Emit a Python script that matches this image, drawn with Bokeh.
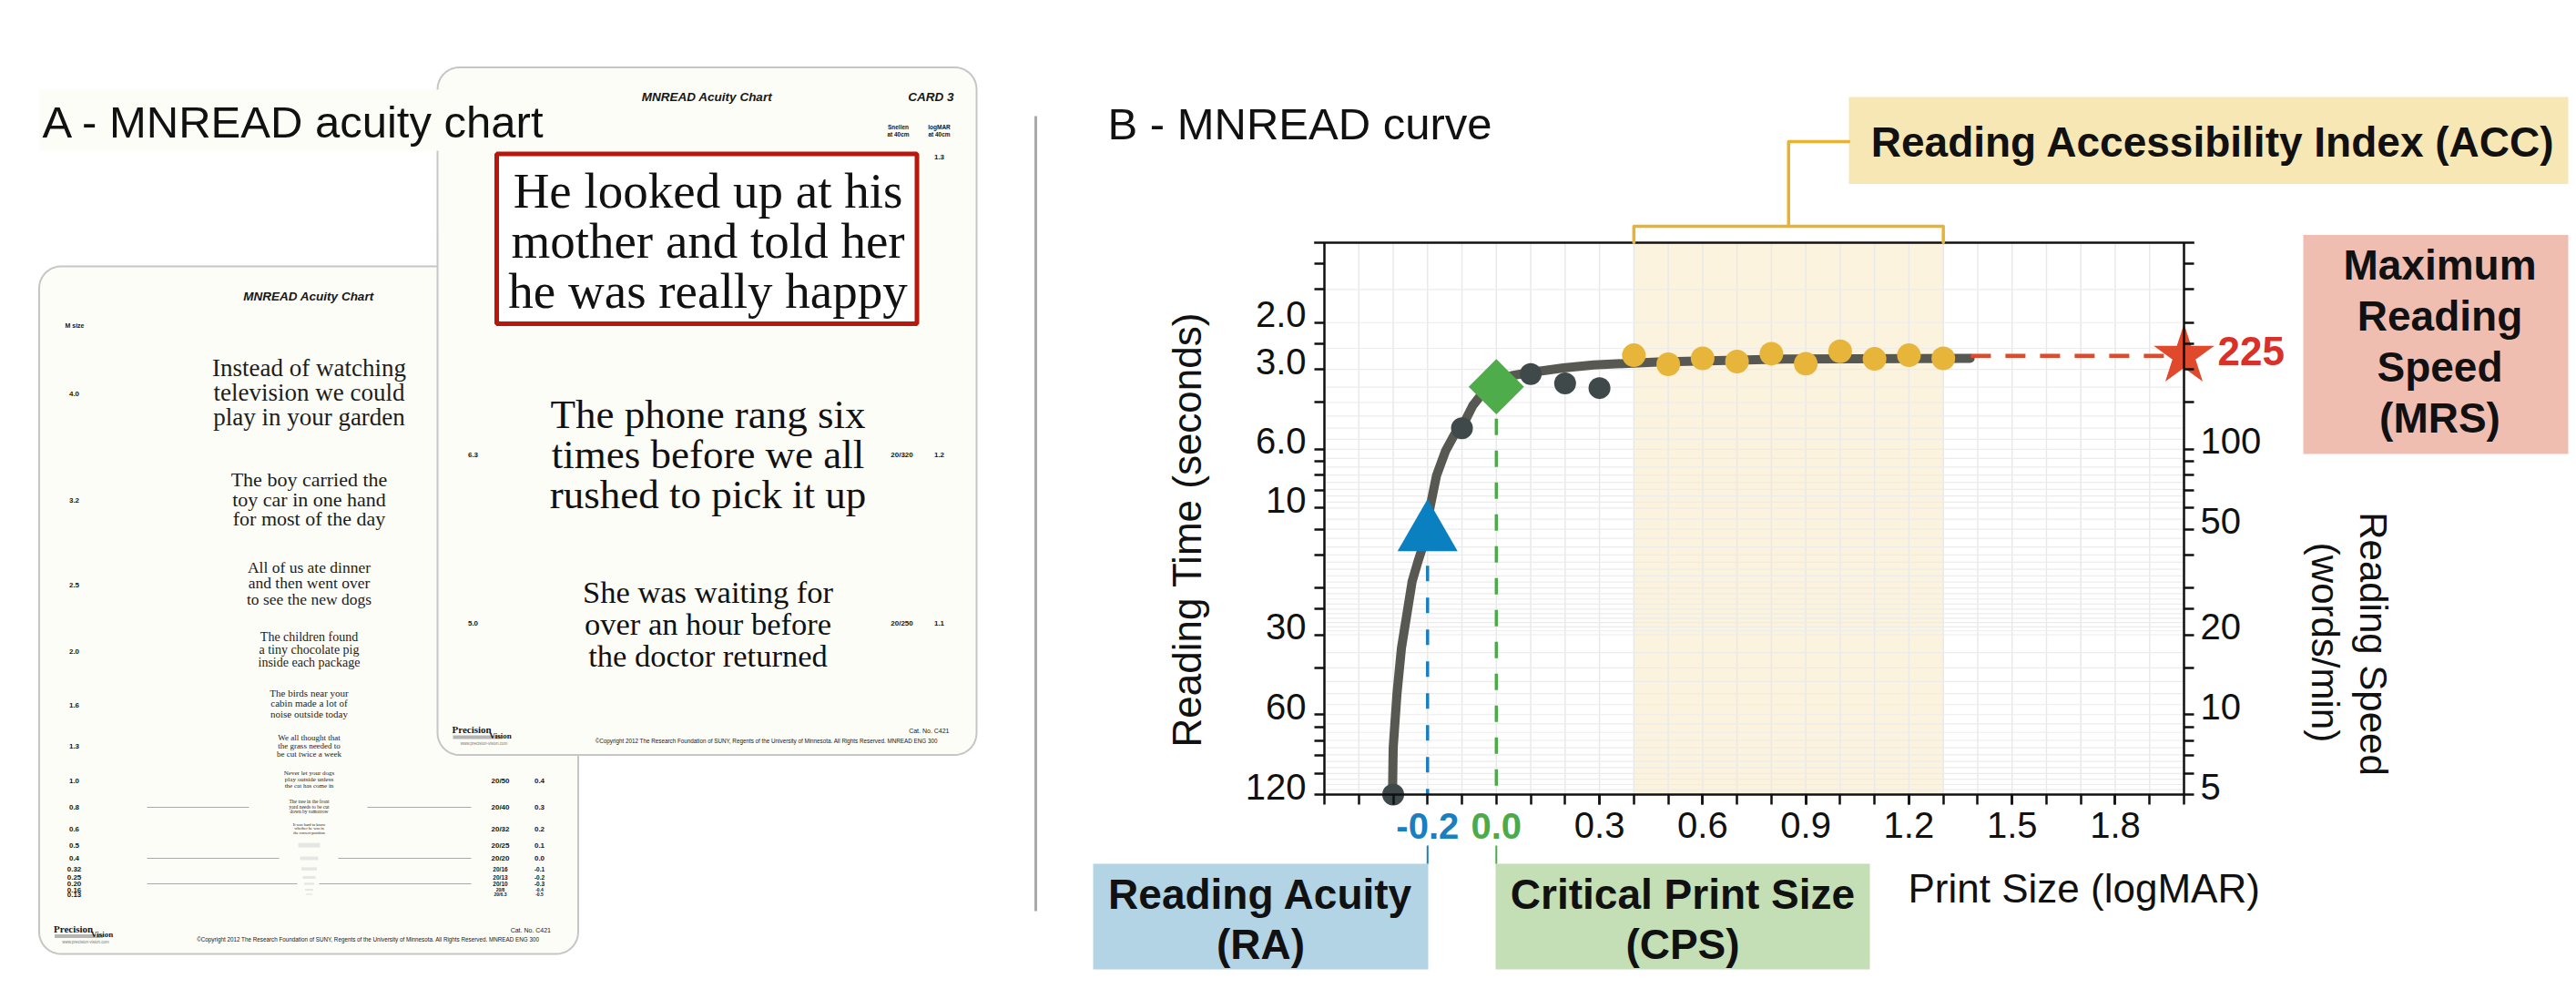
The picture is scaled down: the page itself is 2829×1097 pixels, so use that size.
import numpy as np
from bokeh.plotting import figure
from bokeh.layouts import row
from bokeh.models import (Range1d, LogAxis, LinearAxis, FixedTicker, NumeralTickFormatter,
                          Label, LabelSet, ColumnDataSource, BoxAnnotation, PolyAnnotation)
from bokeh.core.properties import value
from bokeh.embed import file_html
from bokeh.resources import INLINE

SANS = "Liberation Sans"
SERIF = "Liberation Serif"

# ======================= Panel B data (MNREAD curve) =======================
PRINT_SIZE_DARK = [-0.3, -0.1, 0.1, 0.2, 0.3]
SPEED_DARK = [5.0, 120.0, 192.0, 177.0, 170.0]
PRINT_SIZE_ACC = [0.4, 0.5, 0.6, 0.7, 0.8, 0.9, 1.0, 1.1, 1.2, 1.3]
SPEED_ACC = [226.0, 209.0, 220.0, 214.0, 229.0, 210.0, 234.0, 219.0, 226.0, 220.0]
CURVE_PRINT_SIZE = [-0.302, -0.300, -0.289, -0.276, -0.262, -0.245, -0.227, -0.210,
                    -0.192, -0.174, -0.148, -0.122, -0.100, -0.069, -0.038, 0.002,
                    0.046, 0.099, 0.195, 0.283, 0.47, 0.84, 1.378]
CURVE_SPEED = [5.0, 7.5, 12.0, 17.8, 23.1, 31.7, 38.1, 44.6,
               61.2, 79.6, 98.3, 113.5, 121.2, 145.7, 164.0, 179.7,
               189.6, 194.6, 202.4, 207.9, 213.0, 218.6, 220.0]
RA_PRINT_SIZE, RA_SPEED = -0.2, 48.0
CPS_PRINT_SIZE, CPS_SPEED = 0.0, 172.0
MRS_SPEED = 225.0
MRS_LINE_FROM = 1.38
ACC_FROM, ACC_TO = 0.4, 1.3
X_RANGE = (-0.5, 2.0)
SPEED_RANGE = (5, 600)

X_TICKS = [-0.5, -0.4, -0.3, -0.2, -0.1, 0.0, 0.1, 0.2, 0.3, 0.4, 0.5, 0.6, 0.7,
           0.8, 0.9, 1.0, 1.1, 1.2, 1.3, 1.4, 1.5, 1.6, 1.7, 1.8, 1.9, 2.0]
X_LABELED = [0.3, 0.6, 0.9, 1.2, 1.5, 1.8]
Y_TICKS = [500, 400, 300, 250, 200, 150, 100, 90, 80, 70, 60, 50, 40, 30, 25, 20,
           15, 10, 9, 8, 7, 6, 5]
TIME_TICKS = [300, 200, 100, 60, 20, 10, 5]
TIME_LABELS = ["2.0", "3.0", "6.0", "10", "30", "60", "120"]
SPEED_TICKS = [100, 50, 20, 10, 5]
SPEED_LABELS = ["100", "50", "20", "10", "5"]
GRID_SECONDS = [h / 2 for h in range(2, 21)] + list(range(11, 31)) + list(range(35, 121, 5))
GRID_SPEED = [600.0 / s for s in GRID_SECONDS]

# ======================= Panel A data (acuity chart cards) =======================
BACK_SENTENCES = [
    ["Instead of watching", "television we could", "play in your garden"],
    ["The boy carried the", "toy car in one hand", "for most of the day"],
    ["All of us ate dinner", "and then went over", "to see the new dogs"],
    ["The children found", "a tiny chocolate pig", "inside each package"],
    ["The birds near your", "cabin made a lot of", "noise outside today"],
    ["We all thought that", "the grass needed to", "be cut twice a week"],
    ["Never let your dogs", "play outside unless", "the cat has come in"],
    ["The tree in the front", "yard needs to be cut", "down by tomorrow"],
    ["It was hard to know", "whether he was in", "the correct position"],
]
M_SIZES = ["4.0", "3.2", "2.5", "2.0", "1.6", "1.3", "1.0", "0.8", "0.6", "0.5",
           "0.4", "0.32", "0.25", "0.20", "0.16", "0.13"]
BACK_SNELLEN = ["20/50", "20/40", "20/32", "20/25", "20/20", "20/16", "20/13",
                "20/10", "20/8", "20/6.3"]
BACK_LOGMAR = ["0.4", "0.3", "0.2", "0.1", "0.0", "-0.1", "-0.2", "-0.3", "-0.4", "-0.5"]

FRONT_SENTENCES = [
    ["He looked up at his", "mother and told her", "he was really happy"],
    ["The phone rang six", "times before we all", "rushed to pick it up"],
    ["She was waiting for", "over an hour before", "the doctor returned"],
]
FRONT_M = ["", "6.3", "5.0"]
FRONT_SNELLEN = ["20/400", "20/320", "20/250"]
FRONT_LOGMAR = ["1.3", "1.2", "1.1"]
COPYRIGHT = ("\u00a9Copyright 2012 The Research Foundation of SUNY, Regents of the "
             "University of Minnesota. All Rights Reserved.   MNREAD ENG 300")

# ---------------- layout (page pixel positions; baselines of text lines) ----------------
BACK_BASELINES = [[412.5, 440, 467], [533, 555, 576], [628, 645.5, 663], [704, 718, 732],
                  [764.5, 775.5, 787], [812.7, 821.7, 830.7], [851, 858, 865],
                  [881.5, 887.5, 892.5], [906.5, 911, 915.5]]
BACK_FONT = [27, 22, 17.5, 14, 11, 9, 7, 5.5, 4.5]
M_ROW_Y = [432.4, 549, 641.5, 715, 774, 819, 856.5, 886, 909.5, 927.6, 942, 953.6,
           963, 970, 976.6, 981.5]
M_FONT = [8] * 11 + [6.5, 6.5, 6.5, 5, 5]
FRONT_BASELINES = [[228, 283, 338], [470, 514, 558], [661, 696, 731]]
FRONT_FONT = [55, 45, 34.5]
FRONT_ROW_Y = [172, 499, 683.5]
CARD_W, CARD_H = 592, 755
BACK_CARD = (42.5, 292)
FRONT_CARD = (480, 73.5)
PAGE_TOP, PAGE_BOTTOM = 0, 1089
A_LEFT, SPLIT, B_RIGHT = 0, 1150, 2821
BOX_L, BOX_R, BOX_T, BOX_B = 1454, 2398, 266, 872   # plot box of panel B on the page
MID_K = {SANS: 0.3465, SERIF: 0.3375}   # em distance from baseline to text middle

INK = "#161616"


def rounded(x0, y0, x1, y1, r, n=10):
    xs, ys = [], []
    for cx, cy, a0, a1 in [(x1 - r, y0 + r, -90, 0), (x1 - r, y1 - r, 0, 90),
                           (x0 + r, y1 - r, 90, 180), (x0 + r, y0 + r, 180, 270)]:
        for a in np.linspace(np.radians(a0), np.radians(a1), n):
            xs.append(cx + r * np.cos(a))
            ys.append(cy + r * np.sin(a))
    return xs, ys


pa = figure(width=SPLIT - A_LEFT, height=PAGE_BOTTOM - PAGE_TOP,
            x_range=Range1d(A_LEFT, SPLIT), y_range=Range1d(PAGE_BOTTOM, PAGE_TOP),
            output_backend="svg", toolbar_location=None, x_axis_location=None,
            y_axis_location=None, min_border=0, background_fill_color="white",
            border_fill_color="white")
pa.outline_line_color = None
pa.grid.visible = False


def txt(xs, ys, t, size, font=SERIF, style="normal", align="center",
        baseline="alphabetic", color=INK):
    if baseline == "alphabetic":          # place the given baseline via the text middle
        ys = [y - MID_K[font] * size for y in ys]
    pa.text(x=xs, y=ys, text=t, text_font=value(font), text_font_size=value(f"{size}px"),
            text_font_style=style, text_align=align, text_baseline="middle",
            text_color=color)


def card(x0, y0):
    xs, ys = rounded(x0, y0, x0 + CARD_W, y0 + CARD_H, 24)
    pa.patch(xs, ys, fill_color="#fdfdf8", line_color="#c6c6c6", line_width=2)
    txt([x0 + 296], [y0 + 32.5], ["MNREAD Acuity Chart"], 13.5, SANS, "bold italic",
        baseline="middle")


def footer(x0, y0):
    pa.quad(left=[x0 + 17], right=[x0 + 70], top=[y0 + 733.5], bottom=[y0 + 737.5],
            fill_color="#b5b5b5", line_color=None)
    txt([x0 + 16], [y0 + 731], ["Precision"], 11, SERIF, "bold", align="left")
    txt([x0 + 57], [y0 + 737], ["Vision"], 9, SERIF, "bold", align="left")
    txt([x0 + 51], [y0 + 744], ["www.precision-vision.com"], 4.5, SANS, align="center",
        color="#777777")
    txt([x0 + 562], [y0 + 731], ["Cat. No. C421"], 7, SANS, align="right")
    txt([x0 + 363], [y0 + 741.5], [COPYRIGHT], 6.3, SANS, align="center")


# ---- back card ----
bx, by = BACK_CARD
card(bx, by)
txt([bx + 39], [357], ["M size"], 7, SANS, "bold", baseline="middle")
for lines, bases, fs in zip(BACK_SENTENCES, BACK_BASELINES, BACK_FONT):
    txt([339] * 3, bases, lines, fs, SERIF, color="#1c1c1c")
smudge_rows = M_ROW_Y[len(BACK_SENTENCES):]
smudge_w = [24, 20, 17, 14, 11, 9, 7]
smudge_h = [5, 4, 3.5, 3, 2.5, 2, 1.5]
pa.rect(x=[339] * len(smudge_rows), y=smudge_rows, width=smudge_w[:len(smudge_rows)],
        height=smudge_h[:len(smudge_rows)], fill_color="#e6e6e4", line_color=None)
txt([81] * len(M_SIZES), M_ROW_Y, M_SIZES, 8, SANS, "bold", baseline="middle")
first = len(M_SIZES) - len(BACK_SNELLEN)
for xcol, labels in ((549, BACK_SNELLEN), (592, BACK_LOGMAR)):
    pa.text(x=[xcol] * len(labels), y=M_ROW_Y[first:], text=labels,
            text_font=value(SANS), text_font_size=[f"{s}px" for s in M_FONT[first:]],
            text_font_style="bold", text_align="center", text_baseline="middle",
            text_color=INK)
pa.multi_line(xs=[[161, 273], [403, 517], [161, 306], [371, 517], [161, 326], [350, 517]],
              ys=[[886, 886], [886, 886], [942, 942], [942, 942], [970, 970], [970, 970]],
              line_color="#a9a9a9", line_width=1.2)
footer(bx, by)

# ---- front card ----
fx, fy = FRONT_CARD
card(fx, fy)
txt([fx + 567], [fy + 32.5], ["CARD 3"], 13.5, SANS, "bold italic", align="right",
    baseline="middle")
txt([986, 986, 1031, 1031], [138.5, 146.5, 138.5, 146.5],
    ["Snellen", "at 40cm", "logMAR", "at 40cm"], 6.5, SANS, "bold", baseline="middle")
txt([990] * 3, FRONT_ROW_Y, FRONT_SNELLEN, 8, SANS, "bold", baseline="middle")
txt([1031] * 3, FRONT_ROW_Y, FRONT_LOGMAR, 8, SANS, "bold", baseline="middle")
txt([519] * 3, FRONT_ROW_Y, FRONT_M, 8, SANS, "bold", baseline="middle")
pa.quad(left=[545], right=[1006.5], top=[168.6], bottom=[355], fill_color="white",
        line_color="#b8170e", line_width=5)
for lines, bases, fs in zip(FRONT_SENTENCES, FRONT_BASELINES, FRONT_FONT):
    txt([777] * 3, bases, lines, fs, SERIF, color="#111111")
footer(fx, fy)

# ---- panel title and divider ----
pa.quad(left=[42.7], right=[538], top=[98], bottom=[165], fill_color="#fdfdf7",
        line_color=None)
txt([46], [150], ["A - MNREAD acuity chart"], 49, SANS, align="left", color="#111111")
pa.line([1137, 1137], [127, 1000], line_color="#a8aaaa", line_width=3)

# ======================= Panel B figure =======================
# The whole panel is the frame; the data box (X_RANGE x SPEED_RANGE) sits at BOX_* on the page.
px_per_x = (BOX_R - BOX_L) / (X_RANGE[1] - X_RANGE[0])
px_per_dec = (BOX_B - BOX_T) / (np.log10(SPEED_RANGE[1]) - np.log10(SPEED_RANGE[0]))
xr = Range1d(X_RANGE[0] - (BOX_L - SPLIT) / px_per_x, X_RANGE[1] + (B_RIGHT - BOX_R) / px_per_x)
yr_ = Range1d(10 ** (np.log10(SPEED_RANGE[0]) - (PAGE_BOTTOM - BOX_B) / px_per_dec),
              10 ** (np.log10(SPEED_RANGE[1]) + (BOX_T - PAGE_TOP) / px_per_dec))

pb = figure(width=B_RIGHT - SPLIT, height=PAGE_BOTTOM - PAGE_TOP, x_range=xr, y_range=yr_,
            y_axis_type="log", x_axis_location=None, y_axis_location=None,
            output_backend="svg", toolbar_location=None, min_border=0,
            background_fill_color="white", border_fill_color="white")
pb.outline_line_color = None
pb.grid.visible = False


def style_axis(ax, standoff):
    ax.axis_line_width = 2.5
    ax.axis_line_color = "#111111"
    for k in ("major", "minor"):
        setattr(ax, f"{k}_tick_line_width", 2.5)
        setattr(ax, f"{k}_tick_line_color", "#111111")
        setattr(ax, f"{k}_tick_out", 11)
        setattr(ax, f"{k}_tick_in", 0)
    ax.major_label_text_font = SANS
    ax.major_label_text_font_size = "40px"
    ax.major_label_text_color = "#111111"
    ax.major_label_standoff = standoff


xa = LinearAxis(fixed_location=SPEED_RANGE[0], bounds=X_RANGE,
                ticker=FixedTicker(ticks=X_LABELED, minor_ticks=X_TICKS),
                formatter=NumeralTickFormatter(format="0.0"))
style_axis(xa, 8)
pb.add_layout(xa, "below")

# left / right axes: ticks from the axes, labels set slightly above their ticks (as in the original)
ya = LogAxis(fixed_location=X_RANGE[0], bounds=SPEED_RANGE,
             ticker=FixedTicker(ticks=[], minor_ticks=Y_TICKS))
style_axis(ya, 9)
pb.add_layout(ya, "left")
yr = LogAxis(fixed_location=X_RANGE[1], bounds=SPEED_RANGE,
             ticker=FixedTicker(ticks=[], minor_ticks=Y_TICKS))
style_axis(yr, 7)
pb.add_layout(yr, "right")

left_src = ColumnDataSource(dict(x=[X_RANGE[0]] * len(TIME_TICKS), y=TIME_TICKS,
                                 text=TIME_LABELS))
right_src = ColumnDataSource(dict(x=[X_RANGE[1]] * len(SPEED_TICKS), y=SPEED_TICKS,
                                  text=SPEED_LABELS))
pb.add_layout(LabelSet(x="x", y="y", text="text", source=left_src, x_offset=-20, y_offset=9,
                       text_align="right", text_baseline="middle", text_font=value(SANS),
                       text_font_size=value("40px"), text_color="#111111"))
pb.add_layout(LabelSet(x="x", y="y", text="text", source=right_src, x_offset=18, y_offset=9,
                       text_align="left", text_baseline="middle", text_font=value(SANS),
                       text_font_size=value("40px"), text_color="#111111"))

# band, grid and box top
pb.quad(left=[ACC_FROM], right=[ACC_TO], bottom=[SPEED_RANGE[0]], top=[SPEED_RANGE[1]],
        fill_color="#fcf3de", line_color=None, level="image")
pb.segment(x0=X_TICKS, y0=[SPEED_RANGE[0]] * len(X_TICKS), x1=X_TICKS,
           y1=[SPEED_RANGE[1]] * len(X_TICKS), line_color="#e9e9e9", line_width=1.5,
           level="underlay")
pb.segment(x0=[X_RANGE[0]] * len(GRID_SPEED), y0=GRID_SPEED, x1=[X_RANGE[1]] * len(GRID_SPEED),
           y1=GRID_SPEED, line_color="#ececec", line_width=1.2, level="underlay")
pb.line([X_RANGE[0] - 0.03, X_RANGE[1] + 0.03], [SPEED_RANGE[1]] * 2, line_color="#111111",
        line_width=2.5)

# data
pb.line([RA_PRINT_SIZE] * 2, [RA_SPEED, SPEED_RANGE[0]], line_color="#1a7fc0",
        line_width=3.5, line_dash="17 18")
pb.line([CPS_PRINT_SIZE] * 2, [CPS_SPEED, SPEED_RANGE[0]], line_color="#4aab48",
        line_width=3.5, line_dash="18 17")
pb.line(CURVE_PRINT_SIZE, CURVE_SPEED, line_color="#585853", line_width=10,
        line_join="round", line_cap="round")
pb.scatter(PRINT_SIZE_DARK, SPEED_DARK, size=24, fill_color="#3f4949", line_color=None)
pb.scatter(PRINT_SIZE_ACC, SPEED_ACC, size=26, fill_color="#e8b53b", line_color=None)
pb.scatter([RA_PRINT_SIZE], [RA_SPEED], marker="triangle", size=66, fill_color="#0a80c1",
           line_color=None)
pb.scatter([CPS_PRINT_SIZE], [CPS_SPEED], marker="square", angle=np.pi / 4, size=43,
           fill_color="#4fac4a", line_color=None)
pb.line([MRS_LINE_FROM, X_RANGE[1]], [MRS_SPEED] * 2, line_color="#e0492b",
        line_width=4.5, line_dash="22 16")
pb.scatter([X_RANGE[1]], [MRS_SPEED], marker="star", size=70, fill_color="#e0492b",
           line_color=None)


# annotations: screen units relative to the panel (x from its left, y up from its bottom)
def sx(px):
    return px - SPLIT


def sy(py):
    return PAGE_BOTTOM - py


def box(l, r, t, b, color):
    pb.add_layout(BoxAnnotation(left=sx(l), right=sx(r), top=sy(t), bottom=sy(b),
                                left_units="screen", right_units="screen",
                                top_units="screen", bottom_units="screen",
                                fill_color=color, fill_alpha=1, line_color=None))


def lab(x, y, t, size, bold=False, color="#111111", align="center", baseline="middle",
        angle=0.0, x_units="screen"):
    # y is a page y; an 'alphabetic' y is a baseline, placed through the text middle
    if baseline == "alphabetic":
        y = y - MID_K[SANS] * size
    pb.add_layout(Label(x=x, y=sy(y), x_units=x_units, y_units="screen", text=t,
                        text_font=SANS, text_font_size=f"{size}px",
                        text_font_style="bold" if bold else "normal", text_color=color,
                        text_align=align, text_baseline="middle", angle=angle))


def seg_annot(xs, ys, color, width):
    pb.add_layout(PolyAnnotation(xs=xs, ys=ys, xs_units="data", ys_units="screen",
                                 fill_color=None, fill_alpha=0, line_color=color,
                                 line_alpha=1.0, line_width=width, line_join="round"))


box(2030, 2820, 106, 201.5, "#f6e7b4")
box(2529, 2820, 257.5, 498, "#f0bdb1")
box(1200, 1568, 948, 1064, "#b2d4e4")
box(1642, 2053, 948, 1064, "#c4dfb5")

XB = X_RANGE[0] + (2030 - BOX_L) / px_per_x
MID = (ACC_FROM + ACC_TO) / 2
T0, T1, T2 = sy(BOX_T), sy(248), sy(155)
seg_annot([ACC_FROM, ACC_FROM, MID, MID, XB, MID, MID, ACC_TO, ACC_TO, ACC_TO, ACC_FROM],
          [T0, T1, T1, T2, T2, T2, T1, T1, T0, T1, T1], "#e8b234", 3.5)
seg_annot([RA_PRINT_SIZE, RA_PRINT_SIZE], [sy(928), sy(948)], "#1a7fc0", 2)
seg_annot([CPS_PRINT_SIZE, CPS_PRINT_SIZE], [sy(928), sy(948)], "#4aab48", 2)

lab(sx(1216), 152, "B - MNREAD curve", 49, align="left", baseline="alphabetic")
lab(RA_PRINT_SIZE, 906, f"{RA_PRINT_SIZE:.1f}", 40, True, "#1a7fc0", x_units="data")
lab(CPS_PRINT_SIZE, 906, f"{CPS_PRINT_SIZE:.1f}", 40, True, "#4aab48", x_units="data")
lab(sx(2095), 990, "Print Size (logMAR)", 44, align="left", baseline="alphabetic")
lab(sx(2430), 155, "Reading Accessibility Index (ACC)", 46, True)
for t, yy in zip(["Maximum", "Reading", "Speed", "(MRS)"], [290, 346, 402, 458]):
    lab(sx(2679), yy, t, 46, True)
lab(sx(2435), 385, f"{MRS_SPEED:.0f}", 44, True, "#d8312a", align="left")
lab(sx(1384), 997, "Reading Acuity", 46, True, baseline="alphabetic")
lab(sx(1384), 1052, "(RA)", 46, True, baseline="alphabetic")
lab(sx(1847.5), 997, "Critical Print Size", 46, True, baseline="alphabetic")
lab(sx(1847.5), 1052, "(CPS)", 46, True, baseline="alphabetic")
lab(sx(1302.5), 575, "Reading Time  (seconds)", 44, angle=np.pi / 2)
lab(sx(2606), 706.5, "Reading Speed", 42, angle=-np.pi / 2)
lab(sx(2552.5), 705, "(words/min)", 42, angle=-np.pi / 2)

layout = row(pa, pb)
open("out.html", "w").write(file_html(layout, INLINE))
